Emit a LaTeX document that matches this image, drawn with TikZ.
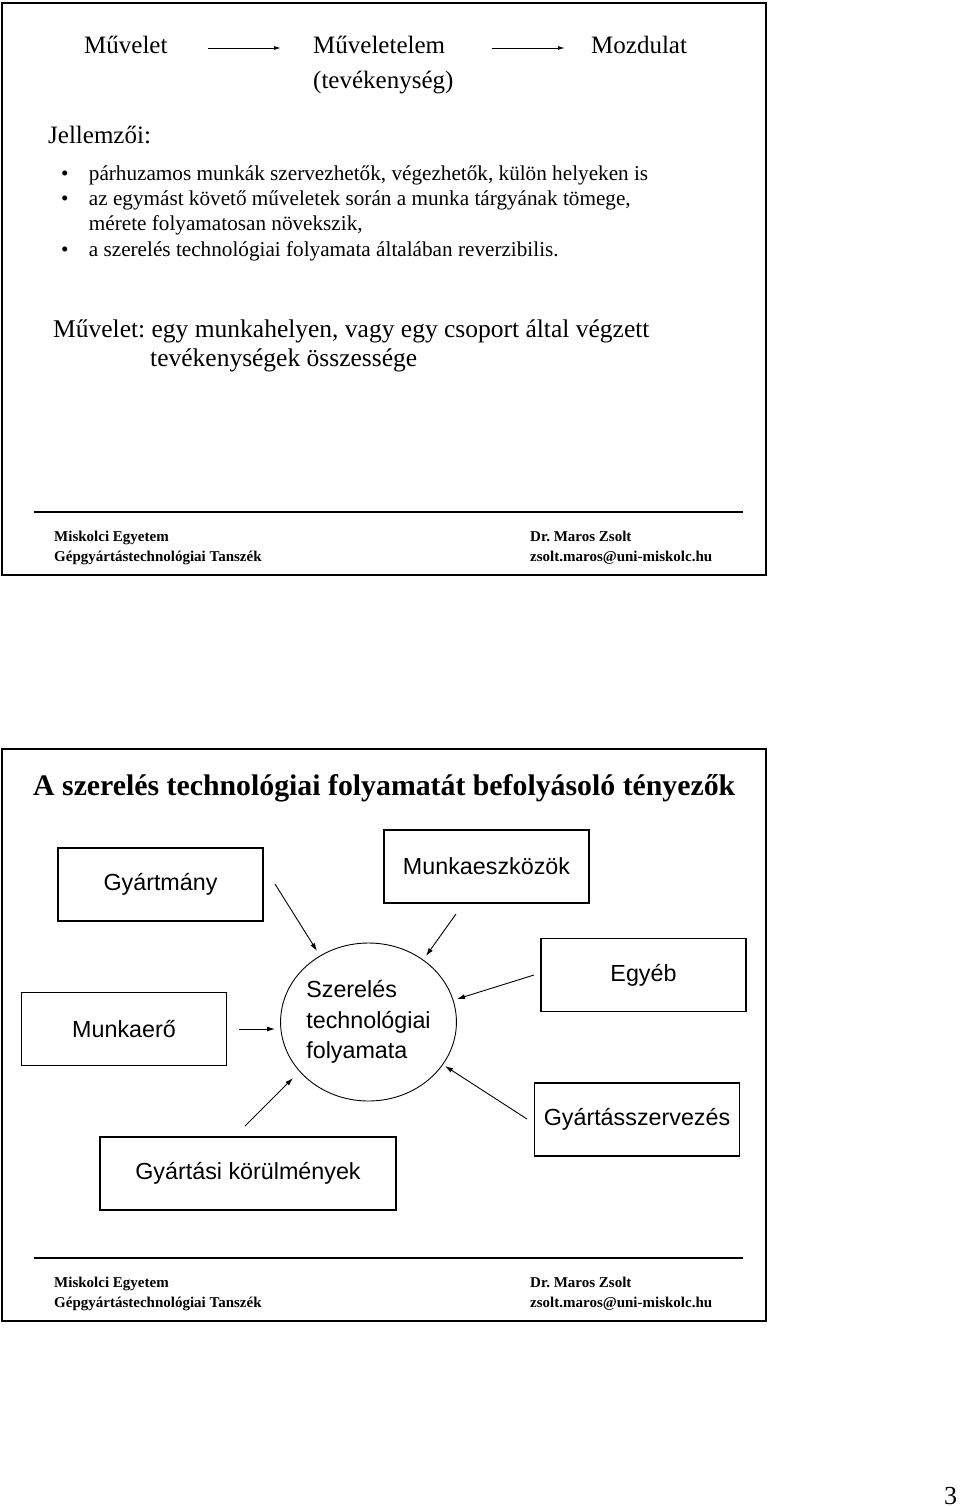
\documentclass[tikz,border=0pt]{standalone}
\usepackage{fontspec}
\setmainfont{Liberation Serif}
\setsansfont{Liberation Sans}
\usetikzlibrary{arrows.meta, shapes.geometric}
\frenchspacing

\begin{document}
\begin{tikzpicture}[x=1pt, y=-1pt,
	slide/.style={draw, line width=2.5pt},
	big/.style={anchor=base west, inner sep=0pt, font=\fontsize{25}{30}\selectfont},
	item/.style={anchor=base west, inner sep=0pt, font=\fontsize{21.2}{25}\selectfont},
	foot/.style={anchor=base west, inner sep=0pt, font=\bfseries\fontsize{15}{18}\selectfont},
	factor/.style={draw, line width=1.2pt, minimum width=205pt, minimum height=73pt, inner sep=0pt, font=\sffamily\fontsize{23.3}{28}\selectfont},
	flow/.style={-{Latex[length=8pt, width=5pt]}, line width=0.9pt}
]
					\useasboundingbox (0,0) rectangle (960,1507);

					% first slide
					\draw[slide] (2,3) rectangle (766,575);

					\node[big] (muvelet) at (84,53) {Művelet};
					\node[big] (elem) at (313,53) {Műveletelem};
					\node[big] (tev) at (313,88.5) {(tevékenység)};
					\node[big] (mozdulat) at (591,53) {Mozdulat};

					\coordinate (a1) at (208,48);
					\coordinate (a2) at (281,48);
					\coordinate (b1) at (492,48);
					\coordinate (b2) at (565,48);
					\draw[-{Latex[length=7pt, width=4pt]}, line width=1pt] (a1) -- (a2);
					\draw[-{Latex[length=7pt, width=4pt]}, line width=1pt] (b1) -- (b2);

					\node[big] (jell) at (48,143) {Jellemzői:};

					\node[item] (d1) at (61,180) {•};
					\node[item] (i1) at (88.7,180) {párhuzamos munkák szervezhetők, végezhetők, külön helyeken is};
					\node[item] (d2) at (61,205.5) {•};
					\node[item] (i2) at (88.7,205.5) {az egymást követő műveletek során a munka tárgyának tömege,};
					\node[item] (i2b) at (88.7,230.7) {mérete folyamatosan növekszik,};
					\node[item] (d3) at (61,256) {•};
					\node[item] (i3) at (88.7,256) {a szerelés technológiai folyamata általában reverzibilis.};

					\node[big, font=\fontsize{25.5}{30}\selectfont] (def) at (53,337) {Művelet: egy munkahelyen, vagy egy csoport által végzett};
					\node[big, font=\fontsize{25.5}{30}\selectfont] (def2) at (150,366.5) {tevékenységek összessége};

					\draw[line width=1.4pt] (34,512) -- (743,512);
					\node[foot] (uni1) at (54,541.5) {Miskolci Egyetem};
					\node[foot] (dept1) at (54,561.5) {Gépgyártástechnológiai Tanszék};
					\node[foot] (auth1) at (530,541.5) {Dr. Maros Zsolt};
					\node[foot] (mail1) at (530,561.5) {zsolt.maros@uni-miskolc.hu};

					% second slide
					\draw[slide] (2,749) rectangle (766,1321);

					\node[anchor=base west, inner sep=0pt, font=\bfseries\fontsize{29.8}{34}\selectfont] (title) at (33,795) {A szerelés technológiai folyamatát befolyásoló tényezők};

					\node[factor] (gyartmany) at (160.5,884.5) {Gyártmány};
					\node[factor] (eszkoz) at (486.5,866.5) {Munkaeszközök};
					\node[factor] (egyeb) at (643.5,975) {Egyéb};
					\node[factor] (munkaero) at (124,1029) {Munkaerő};
					\node[factor] (szervezes) at (637,1119.5) {Gyártásszervezés};
					\node[factor, minimum width=296pt] (korulmeny) at (248,1173.5) {Gyártási körülmények};

					\node[ellipse,
						draw,
						line width=0.9pt,
						minimum width=163pt,
						minimum height=158pt,
						inner sep=0pt,
						align=left,
						font=\sffamily\fontsize{23.3}{30.5}\selectfont
					] (folyamat) at (368.5,1022) {Szerelés\\technológiai\\folyamata};

					\coordinate (gy1) at (275,884);
					\coordinate (gy2) at (317,951);
					\coordinate (me1) at (456,914);
					\coordinate (me2) at (426,956);
					\coordinate (eg1) at (534,975);
					\coordinate (eg2) at (457,999);
					\coordinate (mu1) at (239,1029);
					\coordinate (mu2) at (275,1029);
					\coordinate (sz1) at (527,1119);
					\coordinate (sz2) at (445,1066);
					\coordinate (ko1) at (245,1126);
					\coordinate (ko2) at (293,1078);

					\draw[flow] (gy1) -- (gy2);
					\draw[flow] (me1) -- (me2);
					\draw[flow] (eg1) -- (eg2);
					\draw[flow] (mu1) -- (mu2);
					\draw[flow] (sz1) -- (sz2);
					\draw[flow] (ko1) -- (ko2);

					\draw[line width=1.4pt] (34,1258) -- (743,1258);
					\node[foot] (uni2) at (54,1287.5) {Miskolci Egyetem};
					\node[foot] (dept2) at (54,1307.5) {Gépgyártástechnológiai Tanszék};
					\node[foot] (auth2) at (530,1287.5) {Dr. Maros Zsolt};
					\node[foot] (mail2) at (530,1307.5) {zsolt.maros@uni-miskolc.hu};

					\node[anchor=base west, inner sep=0pt, font=\fontsize{26}{30}\selectfont] (page) at (944,1504) {3};
				\end{tikzpicture}
\end{document}
